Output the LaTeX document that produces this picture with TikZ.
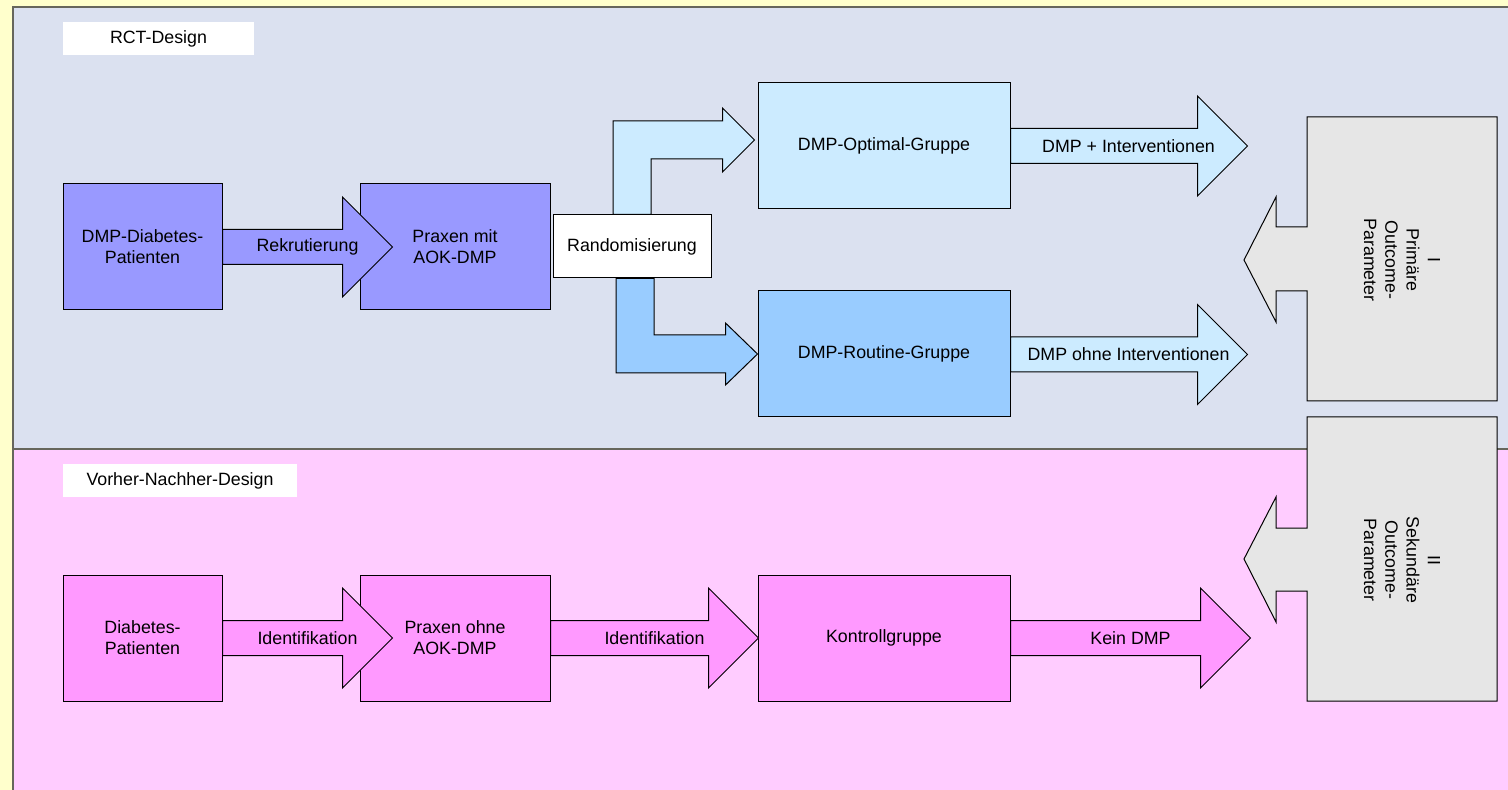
\documentclass[tikz,border=0pt]{standalone}
\usepackage{fontspec}
\setmainfont{Liberation Sans}
\usetikzlibrary{calc}
\definecolor{bgyellow}{RGB}{255,255,204}
\definecolor{panelblue}{RGB}{219,225,240}
\definecolor{panelpink}{RGB}{255,204,255}
\definecolor{purplebox}{RGB}{153,153,255}
\definecolor{pinkbox}{RGB}{255,153,255}
\definecolor{lightblue}{RGB}{204,235,255}
\definecolor{midblue}{RGB}{153,204,255}
\definecolor{grayfill}{RGB}{230,230,230}
\definecolor{framecol}{RGB}{102,102,92}
\pgfdeclarelayer{bg}
\pgfdeclarelayer{mid}
\pgfsetlayers{bg,mid,main}
\newcommand\hblock[4]{%
  \draw[#1] ($#2+(0,-17.5)$) -- ++(#3,0) -- ++(0,-32.5) -- ++(#4,50) -- ++(-#4,50) -- ++(0,-32.5) -- ++(-#3,0) -- cycle;}
\begin{document}
\begin{tikzpicture}[x=0.5pt,y=-0.5pt,
  txt/.style={font=\fontsize{8.9}{10.6}\selectfont, align=center, inner sep=0pt},
  box/.style={txt, draw=black, line width=0.5pt},
  smallbox/.style={box, minimum width=79.5pt, minimum height=63pt},
  midbox/.style={box, minimum width=95pt, minimum height=63pt},
  widebox/.style={box, minimum width=126pt, minimum height=63pt},
  titlebox/.style={txt, fill=white, minimum height=16.5pt},
  blockarrow/.style={draw=black, line width=0.5pt, line join=miter},
  outshape/.style={draw=black, line width=0.5pt, fill=grayfill}]
\useasboundingbox (0,0) rectangle (1508,790);
\begin{pgfonlayer}{bg}
  \fill[bgyellow] (0,0) rectangle (1508,790);
  \fill[panelblue] (13,7) rectangle (1508,449);
  \fill[panelpink] (13,449) rectangle (1508,790);
  \draw[framecol, line width=0.75pt] (1508,7) -- (13,7) -- (13,790);
  \draw[framecol, line width=0.75pt] (13,449) -- (1508,449);
\end{pgfonlayer}

% section titles
\node[titlebox, minimum width=95.5pt] (t1) at (158.5,38.5) {RCT-Design};
\node[titlebox, minimum width=117pt] (t2) at (180,480.5) {Vorher-Nachher-Design};

% boxes
\node[smallbox, fill=purplebox] (pat) at (142.5,247) {DMP-Diabetes-\\Patienten};
\node[midbox, fill=purplebox] (praxmit) at (455,247) {Praxen mit\\AOK-DMP};
\node[box, fill=white, minimum width=79pt, minimum height=31.5pt] (rand) at (632,246.5) {Randomisierung};
\node[widebox, fill=lightblue] (opt) at (884,146) {DMP-Optimal-Gruppe};
\node[widebox, fill=midblue] (rout) at (884,354) {DMP-Routine-Gruppe};
\node[smallbox, fill=pinkbox] (pat2) at (142.5,638) {Diabetes-\\Patienten};
\node[midbox, fill=pinkbox] (praxohne) at (455,638) {Praxen ohne\\AOK-DMP};
\node[widebox, fill=pinkbox] (kontr) at (884,638) {Kontrollgruppe};

% bent arrows from Randomisierung
\begin{pgfonlayer}{mid}
  \draw[blockarrow, fill=lightblue] ($(rand.north)+(-19,0)$) |- ($(opt.west)+(-35,-25)$)
     -- ++(0,-13) -- ($(opt.west)+(-3,-6)$) -- ($(opt.west)+(-35,26)$) -- ++(0,-13)
     -| ($(rand.north)+(19,0)$) -- cycle;
  \draw[blockarrow, fill=midblue] ($(rand.south)+(-16,0)$) |- ($(rout.west)+(-32,19)$)
     -- ++(0,12) -- (rout.west) -- ($(rout.west)+(-32,-31)$) -- ++(0,12)
     -| ($(rand.south)+(22,0)$) -- cycle;
\end{pgfonlayer}

% horizontal block arrows
\hblock{blockarrow, fill=purplebox}{(pat.east)}{120}{50}
\node[txt] (lrek) at ($(pat.east)+(85,0)$) {Rekrutierung};
\hblock{blockarrow, fill=lightblue}{(opt.east)}{187}{50}
\node[txt] (lint) at ($(opt.east)+(118,0)$) {DMP + Interventionen};
\hblock{blockarrow, fill=lightblue}{($(rout.east)+(0,0.5)$)}{187}{50}
\node[txt] (lohne) at ($(rout.east)+(118,0.5)$) {DMP ohne Interventionen};
\hblock{blockarrow, fill=pinkbox}{(pat2.east)}{120}{50}
\node[txt] (lid1) at ($(pat2.east)+(85,0)$) {Identifikation};
\hblock{blockarrow, fill=pinkbox}{(praxohne.east)}{158}{50}
\node[txt] (lid2) at ($(praxohne.east)+(104,0)$) {Identifikation};
\hblock{blockarrow, fill=pinkbox}{(kontr.east)}{190}{50}
\node[txt] (lkein) at ($(kontr.east)+(120,0)$) {Kein DMP};

% outcome boxes with left-pointing arrows
\draw[outshape] (1497,117) -- (1307,117) -- (1307,227) -- (1276,227) -- (1276,197) -- (1244,260)
   -- (1276,322) -- (1276,291) -- (1307,291) -- (1307,401) -- (1497,401) -- cycle;
\node[txt, rotate=-90] (out1) at (1402,260) {I\\Primäre\\Outcome-\\Parameter};
\draw[outshape] (1497,417) -- (1307,417) -- (1307,528) -- (1276,528) -- (1276,497) -- (1244,559)
   -- (1276,622) -- (1276,591) -- (1307,591) -- (1307,701) -- (1497,701) -- cycle;
\node[txt, rotate=-90] (out2) at (1402,560) {II\\Sekundäre\\Outcome-\\Parameter};
\end{tikzpicture}
\end{document}
